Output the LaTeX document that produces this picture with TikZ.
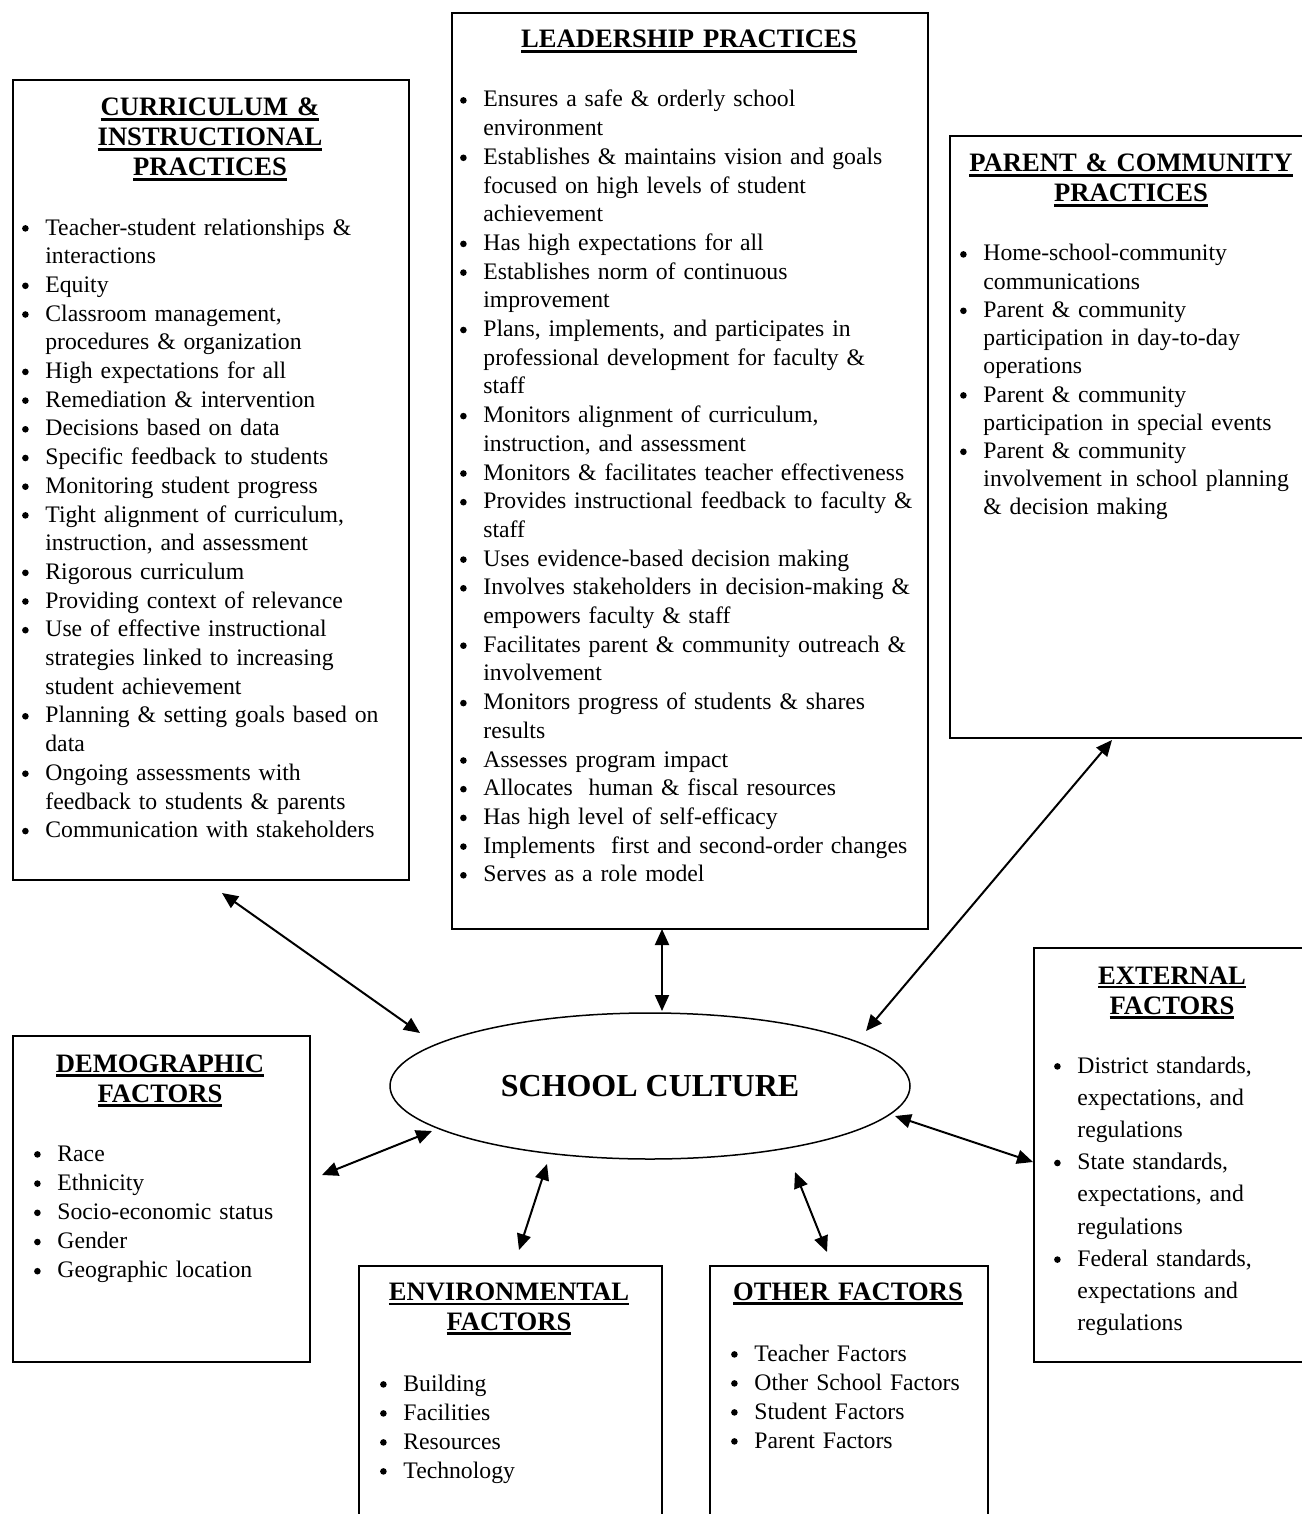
\documentclass[tikz,border=0pt]{standalone}
\usepackage{fontspec}
\setmainfont{Liberation Serif}
\usetikzlibrary{shapes.geometric,arrows.meta}
\newcommand\bdot{\tikz[baseline=0pt]{\fill (1.65pt,3.3pt) circle[radius=1.65pt]; \useasboundingbox (0pt,0pt) rectangle (3.3pt,0pt);}}
\newcommand\bitem[1]{\noindent\llap{\bdot\hspace{8.35pt}}#1\par}
\newcommand\ttl[1]{\leavevmode\vtop{\hbox{#1}\kern1.1pt\hrule height1.1pt}}
\tikzset{
  box/.style={draw, line width=0.9pt, inner sep=0pt, anchor=north west},
  ttlnode/.style={inner sep=0pt, anchor=base, text width=320pt, align=center,
    font=\fontsize{13.3}{15}\selectfont\bfseries},
  lst/.style={inner sep=0pt, anchor=base west, text width=260pt, align=left,
    font=\fontsize{11.85}{14.35}\selectfont},
  dar/.style={line width=1pt, {Triangle[length=8pt,width=7pt]}-{Triangle[length=8pt,width=7pt]}}
}
\begin{document}
\begin{tikzpicture}[x=0.5pt,y=-0.5pt]
\useasboundingbox (0,0) rectangle (1301,1514);
% boxes
\node[box, minimum width=198pt, minimum height=400pt] (cur) at (12,79) {};
\node[box, minimum width=238pt, minimum height=458pt] (lead) at (451,12) {};
\node[box, minimum width=180pt, minimum height=301pt] (par) at (949,135) {};
\node[box, minimum width=140pt, minimum height=207pt] (ext) at (1033,947) {};
\node[box, minimum width=148.5pt, minimum height=163pt] (dem) at (12,1035) {};
\node[box, minimum width=151.5pt, minimum height=140pt] (env) at (358,1265) {};
\node[box, minimum width=139pt, minimum height=140pt] (oth) at (709,1265) {};
\node[draw, ellipse, line width=0.75pt, inner sep=0pt, minimum width=260pt, minimum height=73pt,
  font=\fontsize{16}{19}\selectfont\bfseries] (sc) at (650,1086) {SCHOOL CULTURE};

% titles
\node[ttlnode] (curt) at (210,116) {\ttl{CURRICULUM \&}\\\ttl{INSTRUCTIONAL}\\\ttl{PRACTICES}};
\node[ttlnode] (leadt) at (689,48) {\ttl{LEADERSHIP PRACTICES}};
\node[ttlnode] (part) at (1131,172) {\ttl{PARENT \& COMMUNITY}\\\ttl{PRACTICES}};
\node[ttlnode] (extt) at (1172,984) {\ttl{EXTERNAL}\\\ttl{FACTORS}};
\node[ttlnode] (demt) at (160,1072) {\ttl{DEMOGRAPHIC}\\\ttl{FACTORS}};
\node[ttlnode] (envt) at (509,1300) {\ttl{ENVIRONMENTAL}\\\ttl{FACTORS}};
\node[ttlnode] (otht) at (848,1300) {\ttl{OTHER FACTORS}};

% lists
\node[lst] (curl) at (45,235) {%
\bitem{Teacher-student relationships \&\newline interactions}%
\bitem{Equity}%
\bitem{Classroom management,\newline procedures \& organization}%
\bitem{High expectations for all}%
\bitem{Remediation \& intervention}%
\bitem{Decisions based on data}%
\bitem{Specific feedback to students}%
\bitem{Monitoring student progress}%
\bitem{Tight alignment of curriculum,\newline instruction, and assessment}%
\bitem{Rigorous curriculum}%
\bitem{Providing context of relevance}%
\bitem{Use of effective instructional\newline strategies linked to increasing\newline student achievement}%
\bitem{Planning \& setting goals based on\newline data}%
\bitem{Ongoing assessments with\newline feedback to students \& parents}%
\bitem{Communication with stakeholders}};

\node[lst] (leadl) at (483,107) {%
\bitem{Ensures a safe \& orderly school\newline environment}%
\bitem{Establishes \& maintains vision and goals\newline focused on high levels of student\newline achievement}%
\bitem{Has high expectations for all}%
\bitem{Establishes norm of continuous\newline improvement}%
\bitem{Plans, implements, and participates in\newline professional development for faculty \&\newline staff}%
\bitem{Monitors alignment of curriculum,\newline instruction, and assessment}%
\bitem{Monitors \& facilitates teacher effectiveness}%
\bitem{Provides instructional feedback to faculty \&\newline staff}%
\bitem{Uses evidence-based decision making}%
\bitem{Involves stakeholders in decision-making \&\newline empowers faculty \& staff}%
\bitem{Facilitates parent \& community outreach \&\newline involvement}%
\bitem{Monitors progress of students \& shares\newline results}%
\bitem{Assesses program impact}%
\bitem{Allocates\ \ human \& fiscal resources}%
\bitem{Has high level of self-efficacy}%
\bitem{Implements\ \ first and second-order changes}%
\bitem{Serves as a role model}};

\node[lst, font=\fontsize{11.85}{14.1}\selectfont] (parl) at (983,261) {%
\bitem{Home-school-community\newline communications}%
\bitem{Parent \& community\newline participation in day-to-day\newline operations}%
\bitem{Parent \& community\newline participation in special events}%
\bitem{Parent \& community\newline involvement in school planning\newline \& decision making}};

\node[lst, font=\fontsize{11.85}{16.1}\selectfont] (extl) at (1077,1073) {%
\bitem{District standards,\newline expectations, and\newline regulations}%
\bitem{State standards,\newline expectations, and\newline regulations}%
\bitem{Federal standards,\newline expectations and\newline regulations}};

\node[lst, font=\fontsize{11.85}{14.6}\selectfont] (deml) at (57,1161) {%
\bitem{Race}%
\bitem{Ethnicity}%
\bitem{Socio-economic status}%
\bitem{Gender}%
\bitem{Geographic location}};

\node[lst, font=\fontsize{11.85}{14.5}\selectfont] (envl) at (403,1391) {%
\bitem{Building}%
\bitem{Facilities}%
\bitem{Resources}%
\bitem{Technology}};

\node[lst, font=\fontsize{11.85}{14.5}\selectfont] (othl) at (754,1361) {%
\bitem{Teacher Factors}%
\bitem{Other School Factors}%
\bitem{Student Factors}%
\bitem{Parent Factors}};

% arrow ends
\coordinate (c1) at (222,893);  \coordinate (e1) at (420,1033);
\coordinate (c2) at (662,929);  \coordinate (e2) at (662,1011);
\coordinate (c3) at (1112,740); \coordinate (e3) at (866,1031);
\coordinate (c4) at (322,1175); \coordinate (e4) at (432,1131);
\coordinate (c5) at (519,1250); \coordinate (e5) at (547,1164);
\coordinate (c6) at (827,1252); \coordinate (e6) at (795,1172);
\coordinate (c7) at (1033,1162);\coordinate (e7) at (895,1116);
\draw[dar] (c1) -- (e1);
\draw[dar] (c2) -- (e2);
\draw[dar] (c3) -- (e3);
\draw[dar] (c4) -- (e4);
\draw[dar] (c5) -- (e5);
\draw[dar] (c6) -- (e6);
\draw[dar] (c7) -- (e7);
\end{tikzpicture}
\end{document}
